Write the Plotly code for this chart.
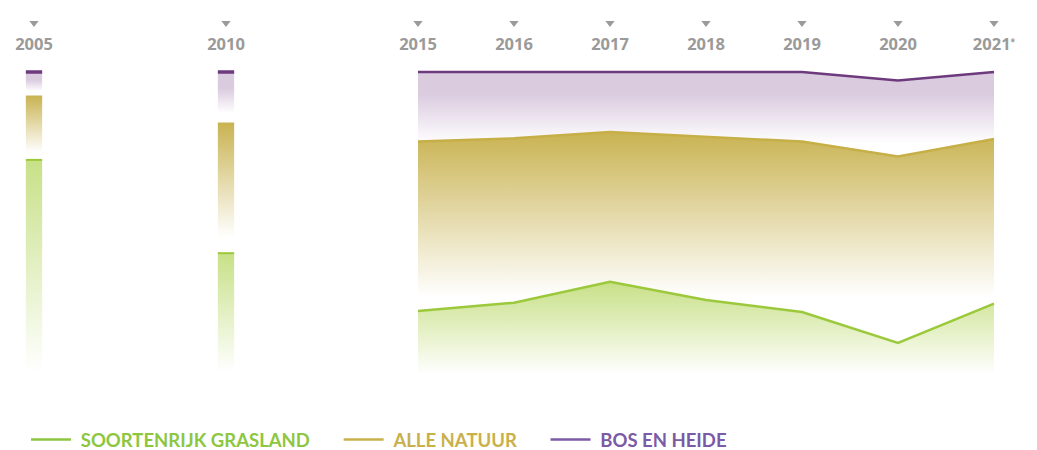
import plotly.graph_objects as go

# ---------------- data ----------------
years_bar = ["2005", "2010"]
bar_slots = [0, 2]
bar_bos = [100.0, 100.0]
bar_natuur = [92.0, 83.0]
bar_grasland = [70.7, 39.6]

years_line = ["2015", "2016", "2017", "2018", "2019", "2020", "2021"]
line_slots = [4, 5, 6, 7, 8, 9, 10]
bos_en_heide = [100.0, 100.0, 100.0, 100.0, 100.0, 97.2, 100.0]
alle_natuur = [76.8, 77.9, 80.0, 78.4, 76.8, 71.8, 77.7]
soortenrijk_grasland = [20.3, 23.1, 30.1, 24.0, 20.0, 9.7, 22.8]

tick_slots = bar_slots + line_slots
tick_labels = years_bar + years_line[:-1] + ["2021<span style='font-size:12px'><sup>*</sup></span>"]

series_names = ["SOORTENRIJK GRASLAND", "ALLE NATUUR", "BOS EN HEIDE"]

# ---------------- style ----------------
PURPLE_LINE = "#6e3a7e"
PURPLE_FILL = "#dacbdf"
GOLD_LINE = "#c6af47"
GOLD_FILL = "#c9b352"
GREEN_LINE = "#9cc93b"
GREEN_FILL = "#c8e087"
LEG_GREEN = "#8dc63f"
LEG_GOLD = "#c9b04a"
LEG_PURPLE = "#7b5aa6"
TICK_GREY = "#9a9a9a"
BAR_HALF = 0.085

# the page body has an 8px margin, so the figure is sized to fit the window
FIG_W, FIG_H = 1029, 442
PLOT_BOTTOM_PX = 372  # plot area occupies figure pixels 0..372 vertically
Y_RANGE = [-8 / 3, 364 / 3]
MARKER_Y = 116.3


def grad(color, start, stop, hold=0.0):
    scale = [[0, "#ffffff"], [1 - hold, color], [1, color]] if hold > 0 else [[0, "#ffffff"], [1, color]]
    return dict(type="vertical", start=start, stop=stop, colorscale=scale)


fig = go.Figure()

# ---- narrow gradient bars for 2005 and 2010 ----
for slot, b, n, g in zip(bar_slots, bar_bos, bar_natuur, bar_grasland):
    xs = [slot - BAR_HALF, slot + BAR_HALF]
    fig.add_trace(go.Scatter(
        x=xs, y=[b, b], mode="lines", fill="tozeroy",
        line=dict(color=PURPLE_LINE, width=3.5),
        fillgradient=grad(PURPLE_FILL, n + 0.2 * (b - n), b, hold=0.4),
        showlegend=False, hoverinfo="skip"))
    fig.add_trace(go.Scatter(
        x=xs, y=[n, n], mode="lines", fill="tozeroy",
        line=dict(color=GOLD_FILL, width=1),
        fillgradient=grad(GOLD_FILL, g + 0.12 * (n - g), n),
        showlegend=False, hoverinfo="skip"))
    fig.add_trace(go.Scatter(
        x=xs, y=[g, g], mode="lines", fill="tozeroy",
        line=dict(color=GREEN_LINE, width=2),
        fillgradient=grad(GREEN_FILL, 0, g),
        showlegend=False, hoverinfo="skip"))

# ---- areas 2015-2021 ----
fig.add_trace(go.Scatter(
    x=line_slots, y=bos_en_heide, mode="lines", fill="tozeroy",
    line=dict(color=PURPLE_LINE, width=2.5),
    fillgradient=grad(PURPLE_FILL, 76, 100, hold=0.3),
    showlegend=False, hoverinfo="skip"))
fig.add_trace(go.Scatter(
    x=line_slots, y=alle_natuur, mode="lines", fill="tozeroy",
    line=dict(color=GOLD_LINE, width=2.5),
    fillgradient=grad(GOLD_FILL, 25, 80),
    showlegend=False, hoverinfo="skip"))
fig.add_trace(go.Scatter(
    x=line_slots, y=soortenrijk_grasland, mode="lines", fill="tozeroy",
    line=dict(color=GREEN_LINE, width=2.5),
    fillgradient=grad(GREEN_FILL, -1, 30),
    showlegend=False, hoverinfo="skip"))

# ---- triangle markers above the year labels ----
fig.add_trace(go.Scatter(
    x=tick_slots, y=[MARKER_Y] * len(tick_slots), mode="markers",
    marker=dict(symbol="triangle-down", size=8, color=TICK_GREY, line=dict(width=0)),
    cliponaxis=False, showlegend=False, hoverinfo="skip"))

# ---- legend-only entries ----
for name, col in zip(series_names, [LEG_GREEN, LEG_GOLD, LEG_PURPLE]):
    fig.add_trace(go.Scatter(
        x=[None], y=[None], mode="lines", line=dict(color=col, width=2.5),
        name=f"&nbsp;<span style='color:{col}'><b>{name}</b></span>&nbsp;&nbsp;&nbsp;&nbsp;&nbsp;"))

fig.update_layout(
    width=FIG_W, height=FIG_H,
    margin=dict(l=0, r=0, t=0, b=FIG_H - PLOT_BOTTOM_PX, autoexpand=False),
    paper_bgcolor="white", plot_bgcolor="white",
    xaxis=dict(
        range=[-26 / 96, 1003 / 96], side="top",
        anchor="free", position=(PLOT_BOTTOM_PX - 45) / PLOT_BOTTOM_PX,
        tickvals=tick_slots, ticktext=tick_labels,
        showgrid=False, zeroline=False, showline=False, ticks="",
        tickfont=dict(family="Open Sans", size=16.5, color=TICK_GREY, weight="bold"),
        automargin=False, fixedrange=True),
    yaxis=dict(
        range=Y_RANGE, showgrid=False, zeroline=False, showline=False,
        showticklabels=False, automargin=False, fixedrange=True),
    legend=dict(
        orientation="h", x=18 / FIG_W, xanchor="left",
        y=(PLOT_BOTTOM_PX - 432) / PLOT_BOTTOM_PX, yanchor="middle",
        font=dict(family="Lato", size=18.5), itemwidth=40,
        bgcolor="rgba(0,0,0,0)"),
    showlegend=True,
)

fig.write_html("out.html")
